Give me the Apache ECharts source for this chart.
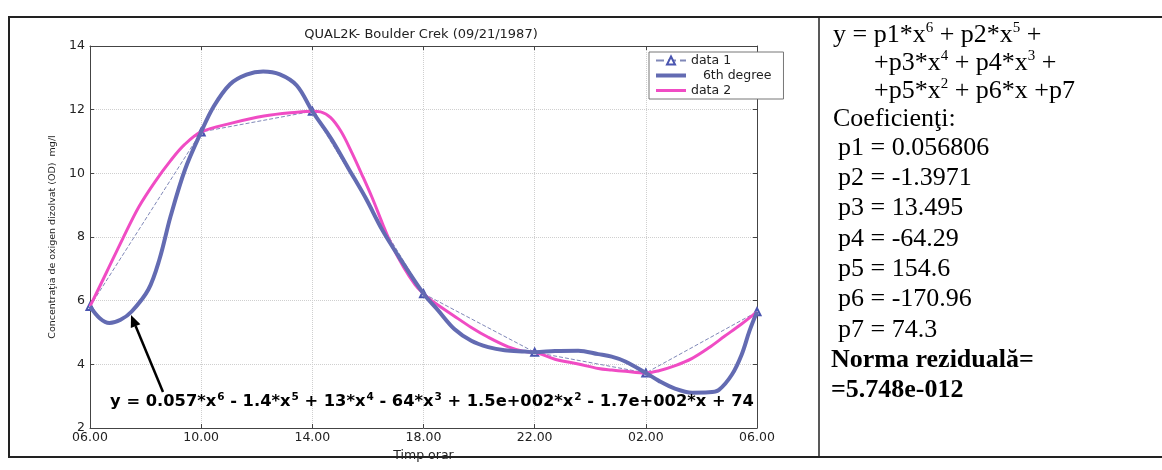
<!DOCTYPE html>
<html><head><meta charset="utf-8">
<script src="https://cdn.jsdelivr.net/npm/echarts@6/dist/echarts.min.js"></script>
<style>html,body{margin:0;padding:0;background:#fff}#c{width:1162px;height:470px}</style>
</head><body><div id="c"></div>
<script>
// ---- data ----
const tickLabels = ['06.00', '10.00', '14.00', '18.00', '22.00', '02.00', '06.00'];
const yTicks = [2, 4, 6, 8, 10, 12, 14];
// hours since 06.00
const dataHours = [0, 4, 8, 12, 16, 20, 24];
const data1 = [5.82, 11.3, 11.95, 6.22, 4.38, 3.73, 5.65];
// 6th degree fit curve
const fitHours = [0, 0.35, 0.7, 1.1, 1.5, 2.1, 2.5, 2.9, 3.42, 4.0, 4.45, 5.04, 5.63, 6.23, 6.83, 7.44, 8.0, 8.67, 9.29, 9.91, 10.53, 11.12, 12.0, 12.51, 13.12, 13.72, 14.33, 14.92, 15.65, 16.0, 16.73, 17.57, 18.29, 18.77, 19.26, 20.0, 20.47, 21.07, 21.67, 22.27, 22.63, 23.1, 23.45, 23.73, 24];
const fitValues = [5.82, 5.45, 5.3, 5.4, 5.66, 6.35, 7.3, 8.65, 10.12, 11.3, 12.1, 12.8, 13.1, 13.2, 13.11, 12.76, 11.95, 11.1, 10.17, 9.24, 8.2, 7.37, 6.22, 5.71, 5.1, 4.74, 4.54, 4.44, 4.4, 4.38, 4.42, 4.43, 4.32, 4.24, 4.09, 3.73, 3.48, 3.23, 3.11, 3.12, 3.2, 3.68, 4.31, 5.05, 5.65];
// data 2 curve
const splineHours = [0, 0.6, 1.18, 1.76, 2.35, 2.9, 3.4, 4.0, 5.06, 6.26, 7.45, 8.0, 8.3, 8.66, 9.03, 9.4, 9.78, 10.15, 10.53, 10.84, 11.28, 11.7, 12.0, 12.26, 13.1, 13.72, 14.33, 15.05, 15.65, 16.0, 16.73, 17.57, 18.29, 18.77, 19.26, 20.0, 20.47, 21.06, 21.65, 22.25, 22.83, 23.43, 24];
const splineValues = [5.82, 6.9, 7.95, 8.95, 9.75, 10.4, 10.9, 11.3, 11.57, 11.8, 11.92, 11.95, 11.93, 11.75, 11.32, 10.69, 9.97, 9.24, 8.41, 7.78, 7.06, 6.5, 6.22, 6.02, 5.52, 5.16, 4.85, 4.55, 4.4, 4.38, 4.16, 4.01, 3.87, 3.82, 3.78, 3.73, 3.8, 3.96, 4.18, 4.51, 4.88, 5.26, 5.65];
const coefNames = ['p1', 'p2', 'p3', 'p4', 'p5', 'p6', 'p7'];
const coefValues = ['0.056806', '-1.3971', '13.495', '-64.29', '154.6', '-170.96', '74.3'];
const residualNorm = '5.748e-012';

const zip = (xs, ys) => xs.map((x, i) => [x, ys[i]]);
const SANS = 'DejaVu Sans';
const SERIF = 'Liberation Serif';

const chart = echarts.init(document.getElementById('c'), null, {renderer: 'canvas'});

const eqRich = {
  b: {fontFamily: SANS, fontWeight: 'bold', fontSize: 16.3, color: '#111', lineHeight: 20},
  s: {fontFamily: SANS, fontWeight: 'bold', fontSize: 10.5, color: '#111', verticalAlign: 'top', lineHeight: 20, padding: [0, 0, 0, 1]}
};
const serRich = {
  t: {fontFamily: SERIF, fontSize: 26, color: '#111', lineHeight: 28},
  s: {fontFamily: SERIF, fontSize: 15, color: '#111', verticalAlign: 'top', lineHeight: 28}
};

const rightX = 833;
const rightLines = [];
rightLines.push({x: rightX, y: 35, t: '{t|y = p1*x}{s|6}{t| + p2*x}{s|5}{t| +}'});
rightLines.push({x: 874, y: 63, t: '{t|+p3*x}{s|4}{t| + p4*x}{s|3}{t| +}'});
rightLines.push({x: 874, y: 91, t: '{t|+p5*x}{s|2}{t| + p6*x +p7}'});
rightLines.push({x: rightX, y: 119, t: '{t|Coeficienţi:}'});
coefNames.forEach((n, i) => rightLines.push({x: 838, y: 148 + i * 30.3, t: '{t|' + n + ' = ' + coefValues[i] + '}'}));
rightLines.push({x: 831, y: 148 + 7 * 30.3, t: '{t|Norma reziduală=}', bold: true});
rightLines.push({x: 831, y: 148 + 8 * 30.3, t: '{t|=' + residualNorm + '}', bold: true});

const graphics = [
  {type: 'rect', shape: {x: 9, y: 17, width: 1170, height: 440}, style: {fill: 'none', stroke: '#222', lineWidth: 2}, z: 10},
  {type: 'line', shape: {x1: 819, y1: 17, x2: 819, y2: 457}, style: {stroke: '#222', lineWidth: 1.5}, z: 10},
  {type: 'text', x: 421, y: 35, style: {text: 'QUAL2K- Boulder Crek (09/21/1987)', font: '13px "DejaVu Sans"', fill: '#222', align: 'center', verticalAlign: 'middle'}, z: 10},
  {type: 'text', x: 432, y: 402, style: {text: '{b|y = 0.057*x}{s|6}{b| - 1.4*x}{s|5}{b| + 13*x}{s|4}{b| - 64*x}{s|3}{b| + 1.5e+002*x}{s|2}{b| - 1.7e+002*x + 74}', rich: eqRich, align: 'center', verticalAlign: 'middle'}, z: 20},
  {type: 'line', shape: {x1: 163, y1: 392, x2: 135.6, y2: 326.1}, style: {stroke: '#000', lineWidth: 2.5}, z: 20},
  {type: 'polygon', shape: {points: [[131, 315], [140.4, 324.3], [130.8, 328.1]]}, style: {fill: '#000'}, z: 20}
];
rightLines.forEach((l) => {
  const rich = JSON.parse(JSON.stringify(serRich));
  if (l.bold) { rich.t.fontWeight = 'bold'; }
  graphics.push({type: 'text', x: l.x, y: l.y, style: {text: l.t, rich: rich, align: 'left', verticalAlign: 'middle'}, z: 10});
});

const axisCommon = {
  axisLine: {show: true, onZero: false, lineStyle: {color: '#444', width: 1}},
  axisTick: {show: true, inside: true, length: 4, lineStyle: {color: '#444'}}
};

chart.setOption({
  animation: false,
  backgroundColor: '#fff',
  grid: {left: 90, right: 405, top: 46, bottom: 42, containLabel: false},
  legend: {
    left: 649, top: 52, orient: 'vertical',
    data: [
      {name: 'data 1'},
      {name: '   6th degree', icon: 'path://M0,0 L30,0 L30,4 L0,4 Z'},
      {name: 'data 2', icon: 'path://M0,0 L30,0 L30,3 L0,3 Z'}
    ],
    itemWidth: 30, itemHeight: 10, itemGap: 2,
    padding: [2, 12, 2, 6],
    borderColor: '#777', borderWidth: 1, backgroundColor: '#fff',
    textStyle: {fontFamily: SANS, fontSize: 12.5, color: '#222', lineHeight: 12}
  },
  xAxis: [
    Object.assign({
      type: 'value', min: 0, max: 24, interval: 4, position: 'bottom',
      axisLabel: {formatter: v => tickLabels[Math.round(v / 4)], fontFamily: SANS, fontSize: 12.5, color: '#222', margin: 3},
      splitLine: {show: true, lineStyle: {color: '#cfcfcf', type: 'dotted', width: 1}},
      name: 'Timp orar', nameLocation: 'middle', nameGap: 19,
      nameTextStyle: {fontFamily: SANS, fontSize: 12.5, color: '#222'}
    }, axisCommon),
    Object.assign({
      type: 'value', min: 0, max: 24, interval: 4, position: 'top',
      axisLabel: {show: false}, splitLine: {show: false}
    }, axisCommon)
  ],
  yAxis: [
    Object.assign({
      type: 'value', min: yTicks[0], max: yTicks[yTicks.length - 1], interval: 2, position: 'left',
      axisLabel: {fontFamily: SANS, fontSize: 12.5, color: '#222', margin: 5},
      splitLine: {show: true, lineStyle: {color: '#cfcfcf', type: 'dotted', width: 1}},
      name: 'Concentraţia de oxigen dizolvat (OD)  mg/l', nameLocation: 'middle', nameGap: 32,
      nameTextStyle: {fontFamily: SANS, fontSize: 9.5, color: '#222'}
    }, axisCommon),
    Object.assign({
      type: 'value', min: yTicks[0], max: yTicks[yTicks.length - 1], interval: 2, position: 'right',
      axisLabel: {show: false}, splitLine: {show: false}
    }, axisCommon)
  ],
  series: [
    {
      name: 'data 1', type: 'line', data: zip(dataHours, data1), z: 2,
      symbol: 'emptyTriangle', symbolSize: 7, showSymbol: true,
      lineStyle: {type: 'dashed', width: 1, color: '#8088b8'},
      itemStyle: {color: '#4a55b0', borderColor: '#4a55b0'}
    },
    {
      name: 'data 2', type: 'line', data: zip(splineHours, splineValues), z: 3,
      smooth: 0.35, symbol: 'none',
      lineStyle: {width: 3, color: '#f04cc4'}, itemStyle: {color: '#f04cc4'}
    },
    {
      name: '   6th degree', type: 'line', data: zip(fitHours, fitValues), z: 4,
      smooth: 0.35, symbol: 'none',
      lineStyle: {width: 4, color: '#636bb2'}, itemStyle: {color: '#636bb2'}
    }
  ],
  graphic: graphics
});
</script></body></html>
